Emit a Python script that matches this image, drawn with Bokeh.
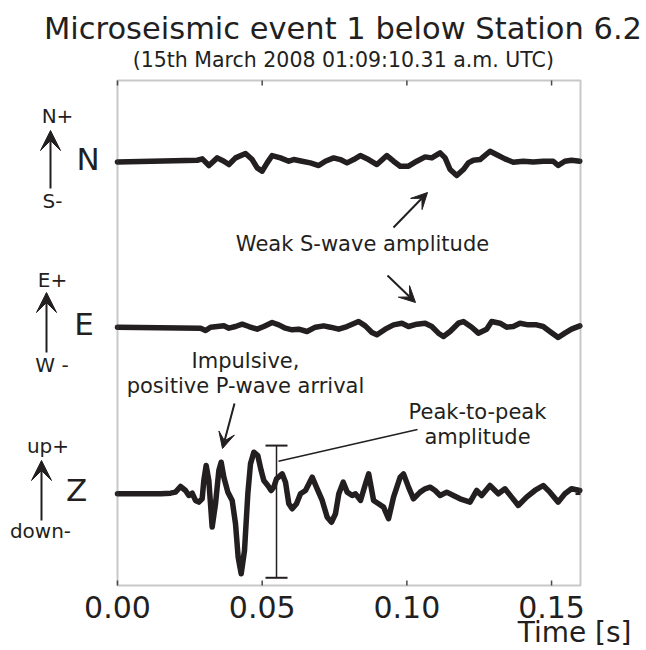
from bokeh.plotting import figure
from bokeh.models import (Range1d, Label, Arrow, VeeHead, Whisker, TeeHead, ColumnDataSource,
                          BoxAnnotation)
from bokeh.core.properties import value
from bokeh.embed import file_html
from bokeh.resources import INLINE

# ---- data ----
components = ["Z", "E", "N"]
offsets = [0, 1, 2]
x_ticks = [0.0, 0.05, 0.10, 0.15]
x_tick_labels = ["0.00", "0.05", "0.10", "0.15"]
T_MIN, T_MAX = 0.0, 0.16
Y_MIN, Y_MAX = -0.5514, 2.4854

t_n = [0.0, 0.02757, 0.02930, 0.03160, 0.03447, 0.03677, 0.03850, 0.04079, 0.04424, 0.04654,
       0.04827, 0.04999, 0.05171, 0.05344, 0.05631, 0.05918, 0.06091, 0.06378, 0.06665, 0.06953,
       0.07183, 0.07470, 0.07700, 0.07930, 0.08160, 0.08390, 0.08677, 0.08965, 0.09309, 0.09539,
       0.09769, 0.10057, 0.10344, 0.10631, 0.10861, 0.11148, 0.11321, 0.11493, 0.11723, 0.11953,
       0.12125, 0.12298, 0.12528, 0.12872, 0.13160, 0.13390, 0.13677, 0.14022, 0.14366, 0.14711,
       0.15056, 0.15229, 0.15459, 0.15689, 0.15976]
n_amp = [-0.004, 0.006, 0.014, -0.026, 0.020, 0.0, -0.020, 0.020, 0.046, 0.010,
         -0.040, -0.060, -0.010, 0.034, 0.020, 0.0, 0.010, 0.0, -0.010, -0.026,
         0.0, 0.020, 0.010, -0.010, 0.010, 0.034, 0.010, -0.020, 0.034, 0.0,
         -0.030, -0.030, 0.0, 0.026, 0.020, 0.050, 0.020, -0.050, -0.086, -0.050,
         -0.010, 0.006, 0.010, 0.060, 0.034, 0.014, -0.006, 0.0, -0.004, 0.0,
         0.0, -0.026, 0.0, 0.006, 0.0]

t_e = [0.0, 0.02872, 0.03045, 0.03217, 0.03447, 0.03677, 0.03850, 0.04079, 0.04309, 0.04539,
       0.04827, 0.05056, 0.05344, 0.05573, 0.05803, 0.06033, 0.06263, 0.06550, 0.06838, 0.07125,
       0.07355, 0.07643, 0.07930, 0.08332, 0.08562, 0.08792, 0.08965, 0.09252, 0.09539, 0.09827,
       0.10057, 0.10344, 0.10631, 0.10861, 0.11091, 0.11263, 0.11493, 0.11780, 0.11953, 0.12240,
       0.12470, 0.12757, 0.12930, 0.13217, 0.13447, 0.13677, 0.13907, 0.14194, 0.14482, 0.14711,
       0.14941, 0.15229, 0.15459, 0.15689, 0.15976]
e_amp = [0.002, -0.004, -0.018, 0.002, 0.006, 0.010, -0.004, 0.006, 0.020, 0.006,
         -0.010, 0.006, 0.030, 0.016, -0.004, -0.014, -0.010, -0.024, 0.002, 0.010,
         0.002, -0.010, 0.006, 0.036, 0.010, -0.030, -0.044, -0.010, 0.016, 0.026,
         0.006, 0.020, 0.026, 0.006, -0.034, -0.054, -0.024, 0.026, 0.036, 0.002,
         -0.034, -0.010, 0.036, 0.026, 0.002, 0.006, 0.026, 0.016, 0.016, 0.006,
         -0.024, -0.060, -0.034, -0.010, 0.010]

t_z = [0.0, 0.01500, 0.01832, 0.02004, 0.02177, 0.02350, 0.02465, 0.02580, 0.02695, 0.02811,
       0.02926, 0.02983, 0.03064, 0.03156, 0.03271, 0.03387, 0.03502, 0.03583, 0.03675, 0.03813,
       0.03963, 0.04078, 0.04170, 0.04274, 0.04389, 0.04504, 0.04596, 0.04711, 0.04849, 0.04965,
       0.05056, 0.05194, 0.05310, 0.05401, 0.05495, 0.05691, 0.05806, 0.05920, 0.06037, 0.06186,
       0.06324, 0.06497, 0.06728, 0.06901, 0.07074, 0.07247, 0.07395, 0.07533, 0.07648, 0.07800,
       0.07938, 0.08111, 0.08225, 0.08398, 0.08570, 0.08680, 0.08850, 0.09022, 0.09194, 0.09367,
       0.09539, 0.09769, 0.09884, 0.10057, 0.10229, 0.10459, 0.10631, 0.10803, 0.10976, 0.11148,
       0.11378, 0.11608, 0.11838, 0.12183, 0.12413, 0.12585, 0.12872, 0.13160, 0.13390, 0.13620,
       0.13850, 0.14137, 0.14424, 0.14712, 0.14942, 0.15229, 0.15459, 0.15689, 0.15976]
z_amp = [0.0, 0.0, 0.004, 0.010, 0.044, 0.020, -0.010, 0.004, -0.040, -0.050,
         -0.030, 0.080, 0.170, 0.080, -0.200, -0.060, 0.140, 0.190, 0.100, 0.010,
         -0.040, -0.180, -0.381, -0.481, -0.341, 0.0, 0.180, 0.250, 0.230, 0.140,
         0.080, 0.050, 0.020, 0.040, 0.090, 0.120, 0.070, -0.060, -0.090, -0.060,
         0.0, 0.020, 0.100, 0.030, -0.040, -0.141, -0.171, -0.120, 0.0, 0.070,
         0.010, -0.010, 0.0, -0.040, 0.060, 0.120, -0.040, -0.060, -0.080, -0.150,
         -0.020, 0.100, 0.120, 0.040, -0.030, 0.010, 0.030, 0.040, 0.020, -0.010,
         0.010, -0.010, -0.030, -0.050, 0.020, -0.010, 0.050, 0.0, 0.030, -0.020,
         -0.070, -0.020, 0.020, 0.050, 0.010, -0.050, 0.0, 0.030, 0.020]

# peak-to-peak marker on the Z trace
p2p_time = [0.05495]
p2p_top = [0.290]
p2p_bottom = [-0.505]

# ---- layout / styling ----
INK = "#231f20"
FRAME = "#4a4a4a"
FONT = "DejaVu Sans"
W, H = 646, 650
BX0, BX1, BY0, BY1 = 117, 580, 80, 585          # box of the axes, in pixels
SX = (BX1 - BX0) / (T_MAX - T_MIN)
SY = (BY1 - BY0) / (Y_MAX - Y_MIN)
BASE_SHIFT = 0.38                                # rendered baseline sits this many em low


def X(px):
    return T_MIN + (px - BX0) / SX


def Y(py):
    return Y_MAX - (py - BY0) / SY


p = figure(width=W, height=H, output_backend="svg", toolbar_location=None,
           x_range=Range1d(X(0), X(W)), y_range=Range1d(Y(H), Y(0)),
           min_border=0)
p.axis.visible = False
p.grid.visible = False
p.outline_line_color = None
p.background_fill_color = "white"
p.border_fill_color = "white"

# axes box with inward ticks
p.add_layout(BoxAnnotation(left=T_MIN, right=T_MAX, bottom=Y_MIN, top=Y_MAX,
                           fill_alpha=0, line_color=FRAME, line_width=2))
TICK = 5
p.segment(x0=x_ticks, x1=x_ticks, y0=[Y_MIN] * 4, y1=[Y_MIN + TICK / SY] * 4,
          line_color=FRAME, line_width=1.5)
p.segment(x0=x_ticks, x1=x_ticks, y0=[Y_MAX] * 4, y1=[Y_MAX - TICK / SY] * 4,
          line_color=FRAME, line_width=1.5)
p.segment(x0=[T_MIN] * 3, x1=[T_MIN + TICK / SX] * 3, y0=offsets, y1=offsets,
          line_color=INK, line_width=2.5)
p.segment(x0=[T_MAX] * 3, x1=[T_MAX - TICK / SX] * 3, y0=offsets, y1=offsets,
          line_color=INK, line_width=2.5)
p.text(x=x_ticks, y=[Y(618 - BASE_SHIFT * 30)] * 4, text=x_tick_labels, text_align="center",
       text_baseline="alphabetic", text_font=value(FONT), text_font_size="30px",
       text_color=INK)

# traces
for t, a, off in [(t_n, n_amp, offsets[2]), (t_e, e_amp, offsets[1]), (t_z, z_amp, offsets[0])]:
    p.line(t, [v + off for v in a], line_width=5.5, line_color=INK,
           line_join="round", line_cap="round")


def lab(px, py, text, size, align="center"):
    p.add_layout(Label(x=X(px), y=Y(py - BASE_SHIFT * size), text=text, text_align=align,
                       text_baseline="alphabetic", text_font=FONT,
                       text_font_size=f"{size}px", text_color=INK))


def arr(px0, py0, px1, py1, size, lw=2.0):
    p.add_layout(Arrow(x_start=X(px0), y_start=Y(py0), x_end=X(px1), y_end=Y(py1),
                       line_color=INK, line_width=lw,
                       end=VeeHead(size=size, fill_color=INK, line_color=INK, line_width=1)))


# titles
lab(342.5, 40, "Microseismic event 1 below Station 6.2", 30.5)
lab(342.8, 67.3, "(15th March 2008 01:09:10.31 a.m. UTC)", 20.5)
lab(631, 643, "Time [s]", 28, align="right")

# component names
for name, cx, base in [("N", 87.5, 170), ("E", 83.5, 335.7), ("Z", 76, 501.7)]:
    lab(cx, base, name, 31)

# polarity labels and arrows
lab(57, 123.3, "N+", 20)
lab(52, 208.3, "S-", 20)
arr(50, 188, 50, 130, 20)
lab(52, 286.7, "E+", 20)
lab(51.5, 371.7, "W -", 20)
arr(46, 352, 46, 292, 20)
lab(47.5, 452.7, "up+", 20)
lab(40, 537.7, "down-", 20)
arr(41, 520, 41, 460, 20)

# annotations
lab(362, 251, "Weak S-wave amplitude", 21)
arr(393, 227, 427, 192, 16)
arr(387, 275, 415, 302, 16)
lab(245, 368.3, "Impulsive,", 21)
lab(245, 393.3, "positive P-wave arrival", 21)
arr(234, 403, 222, 448, 16)
lab(477, 419.3, "Peak-to-peak", 21)
lab(477, 444.3, "amplitude", 21)
p.segment(x0=[X(417)], y0=[Y(429)], x1=[X(278)], y1=[Y(460.7)], line_color=INK, line_width=1.5)

# peak-to-peak bar
wsrc = ColumnDataSource(dict(base=p2p_time, upper=p2p_top, lower=p2p_bottom))
p.add_layout(Whisker(source=wsrc, base="base", upper="upper", lower="lower", dimension="height",
                     line_color=INK, line_width=1.5,
                     upper_head=TeeHead(size=22, line_color=INK, line_width=2),
                     lower_head=TeeHead(size=22, line_color=INK, line_width=2)))

open("out.html", "w").write(file_html(p, INLINE))
